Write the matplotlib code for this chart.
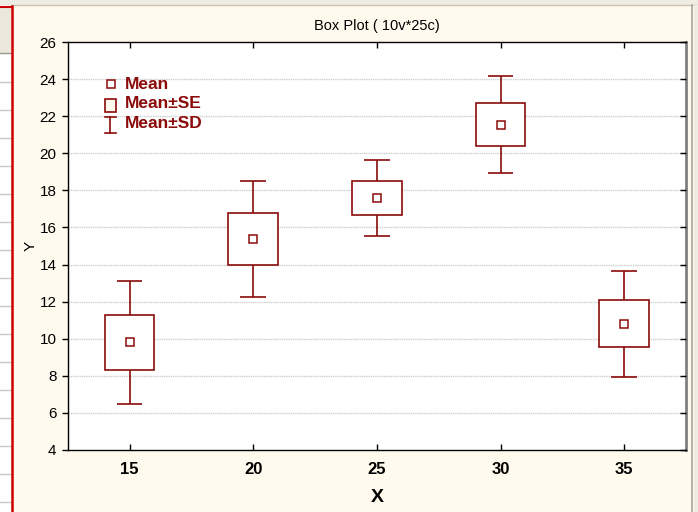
import matplotlib
matplotlib.use("Agg")
import matplotlib.pyplot as plt
import matplotlib.patches as mpatches
import matplotlib.lines as mlines
import matplotlib.transforms as mtransforms

plt.rcParams['font.family'] = ['Liberation Sans', 'DejaVu Sans']

# data
xs = [15, 20, 25, 30, 35]
means = [9.8, 15.4, 17.6, 21.55, 10.8]
ses = [1.5, 1.4, 0.92, 1.16, 1.27]
sds = [3.33, 3.13, 2.05, 2.62, 2.86]
yticks = [4, 6, 8, 10, 12, 14, 16, 18, 20, 22, 24, 26]
legend_labels = ['Mean', 'Mean\u00b1SE', 'Mean\u00b1SD']

RED = '#8b0a0a'
CREAM = '#fff9ee'
BOXW = 1.0   # half width of SE box
CAPW = 0.52  # half width of SD cap

W, H = 698, 512
fig = plt.figure(figsize=(W / 100, H / 100), dpi=100, facecolor=CREAM)

# window frame bits around the graph (screenshot look)
def px_rect(x0, y0, x1, y1, **kw):
    fig.add_artist(mpatches.Rectangle((x0 / W, 1 - y1 / H), (x1 - x0) / W, (y1 - y0) / H,
                                      transform=fig.transFigure, zorder=0, **kw))

def px_line(x0, y0, x1, y1, **kw):
    fig.add_artist(mlines.Line2D([x0 / W, x1 / W], [1 - y0 / H, 1 - y1 / H],
                                 transform=fig.transFigure, zorder=0, **kw))

px_rect(0, 0, W, 5, facecolor='#efece4', edgecolor='none')
px_line(0, 5, W, 5, color='#c9c4b6', lw=1)
px_rect(0, 5, 11, H, facecolor='white', edgecolor='none')
px_rect(0, 6, 11, 53, facecolor='#ebe7da', edgecolor='none')
px_line(0, 53, 11, 53, color='#9a978c', lw=1)
for yy in range(82, H, 28):
    px_line(0, yy, 11, yy, color='#c8c8c8', lw=1)
px_line(0, 6.5, 12, 6.5, color='#cc0000', lw=1.5)
px_line(12, 6, 12, H, color='#cc0000', lw=1.8)
px_line(692, 5, 692, H, color='#a8a498', lw=1.2)
px_rect(694, 5, W, H, facecolor='#efece4', edgecolor='none')

ax = fig.add_axes([67.7 / W, 1 - 449.7 / H, (686 - 67.7) / W, (449.7 - 42.3) / H])
ax.set_facecolor('white')
ax.set_xlim(12.5, 37.5)
ax.set_ylim(4, 26)

for y in yticks[1:-1]:
    ax.axhline(y, color='#cfcfcf', lw=1, ls=(0, (1, 0.6)), zorder=1)

for x, m, se, sd in zip(xs, means, ses, sds):
    ax.vlines(x, m + se, m + sd, color=RED, lw=1.2, zorder=3)
    ax.vlines(x, m - sd, m - se, color=RED, lw=1.2, zorder=3)
    ax.hlines([m + sd, m - sd], x - CAPW, x + CAPW, color=RED, lw=1.2, zorder=3)
    ax.add_patch(mpatches.Rectangle((x - BOXW, m - se), 2 * BOXW, 2 * se,
                                    facecolor='white', edgecolor=RED, lw=1.2, zorder=3))
    ax.plot([x], [m], 's', ms=6, mfc='white', mec=RED, mew=1.1, zorder=4)

ax.set_xticks(xs)
ax.set_yticks(yticks)
ax.set_xticklabels([str(x) for x in xs], fontsize=12, fontweight='bold')
ax.tick_params(axis='y', labelsize=11, direction='out', length=4, width=1, pad=4, right=False)
ax.tick_params(axis='x', direction='in', length=4, width=1, pad=9, top=True)

# inward ticks on the right edge
trans = mtransforms.blended_transform_factory(ax.transAxes, ax.transData)
ax.plot([1] * len(yticks), yticks, ls='none', marker=mlines.TICKLEFT, ms=4, mew=1,
        color='black', transform=trans, clip_on=False, zorder=6)

for s in ['left', 'bottom', 'top']:
    ax.spines[s].set_color('black')
    ax.spines[s].set_linewidth(1)
ax.spines['right'].set_color('#808080')
ax.spines['right'].set_linewidth(2)

ax.set_title('Box Plot ( 10v*25c)', fontsize=10.5, pad=9)
ax.set_xlabel('X', fontsize=14, fontweight='bold')
ax.xaxis.set_label_coords(0.5, -0.097)
ax.set_ylabel('Y', fontsize=11)
ax.yaxis.set_label_coords(-0.048, 0.5)

# legend drawn by hand, top left inside the plot
def ax_pt(px, py):
    return (px - 67.7) / 618.3, (449.7 - py) / 407.4

lx, ly = ax_pt(111, 84)
ax.plot([lx], [ly], 's', ms=6, mfc='white', mec=RED, mew=1.1, transform=ax.transAxes, zorder=5)
bx0, by0 = ax_pt(104.7, 112.3)
bx1, by1 = ax_pt(116, 99)
ax.add_patch(mpatches.Rectangle((bx0, by0), bx1 - bx0, by1 - by0, transform=ax.transAxes,
                                facecolor=CREAM, edgecolor=RED, lw=1.2, zorder=5))
cx, ct = ax_pt(110.3, 117.3)
_, cb = ax_pt(110.3, 132.7)
c0, _ = ax_pt(105, 0)
c1, _ = ax_pt(115.6, 0)
ax.plot([cx, cx], [cb, ct], color=RED, lw=1.2, transform=ax.transAxes, zorder=5)
ax.plot([c0, c1], [ct, ct], color=RED, lw=1.2, transform=ax.transAxes, zorder=5)
ax.plot([c0, c1], [cb, cb], color=RED, lw=1.2, transform=ax.transAxes, zorder=5)
for lab, py in zip(legend_labels, [84.3, 103.7, 124]):
    tx, ty = ax_pt(125, py)
    ax.text(tx, ty, lab, transform=ax.transAxes, color=RED, fontsize=12.5,
            fontweight='bold', va='center', ha='left', zorder=5)

fig.savefig('out.png', dpi=100, facecolor=CREAM)
